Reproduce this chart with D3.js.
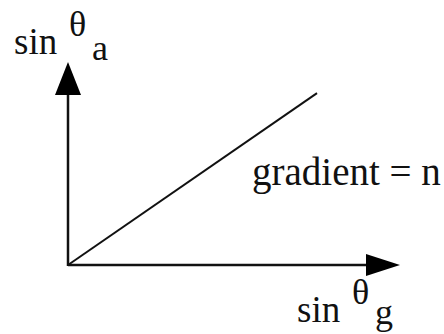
<!DOCTYPE html>
<html>
<head>
<meta charset="utf-8">
<script src="https://cdn.jsdelivr.net/npm/d3@7"></script>
<style>
  body { margin: 0; background: #fff; }
  text { font-family: "Liberation Serif", "Times New Roman", serif; fill: #111; }
</style>
</head>
<body>
<div id="chart"></div>
<script>
// Line through origin, gradient = n
const sinG = [0, 0.75];
const sinA = [0, 0.847];
const axisMax = 1;
const xLabel = ["sin", "θ", "g"];
const yLabel = ["sin", "θ", "a"];
const lineLabel = "gradient = n";

const width = 444, height = 334;
const svg = d3.select("#chart")
    .append("svg")
    .attr("width", width)
    .attr("height", height);

const x = d3.scaleLinear().domain([0, axisMax]).range([68, 400]);
const y = d3.scaleLinear().domain([0, axisMax]).range([265, 62]);

// axes
svg.append("line")
    .attr("x1", x(0)).attr("y1", y(0))
    .attr("x2", x(axisMax) - 30).attr("y2", y(0))
    .attr("stroke", "#111").attr("stroke-width", 2.5);
svg.append("line")
    .attr("x1", x(0)).attr("y1", y(0) + 1)
    .attr("x2", x(0)).attr("y2", y(axisMax) + 30)
    .attr("stroke", "#111").attr("stroke-width", 2.5);

// arrow heads
svg.append("path")
    .attr("d", `M${x(axisMax)},${y(0)} L${x(axisMax) - 34},${y(0) - 11} L${x(axisMax) - 34},${y(0) + 11} Z`)
    .attr("fill", "#000");
svg.append("path")
    .attr("d", `M${x(0)},${y(axisMax)} L${x(0) - 13},${y(axisMax) + 33} L${x(0) + 13},${y(axisMax) + 33} Z`)
    .attr("fill", "#000");

// data line
const pts = sinG.map((g, i) => [g, sinA[i]]);
svg.append("path")
    .datum(pts)
    .attr("d", d3.line().x(d => x(d[0])).y(d => y(d[1])))
    .attr("fill", "none")
    .attr("stroke", "#111")
    .attr("stroke-width", 2);

// labels
function axisLabel(parts, px, py, subDy) {
    const g = svg.append("g");
    g.append("text").attr("x", px).attr("y", py).attr("font-size", 37).text(parts[0]);
    g.append("text").attr("x", px + 55).attr("y", py - 18).attr("font-size", 36).text(parts[1]);
    g.append("text").attr("x", px + 78).attr("y", py + subDy).attr("font-size", 36).text(parts[2]);
}
axisLabel(yLabel, 14, 54, 6);
axisLabel(xLabel, 297, 322, 2);

svg.append("text")
    .attr("x", 252).attr("y", 185)
    .attr("font-size", 39)
    .text(lineLabel);
</script>
</body>
</html>
